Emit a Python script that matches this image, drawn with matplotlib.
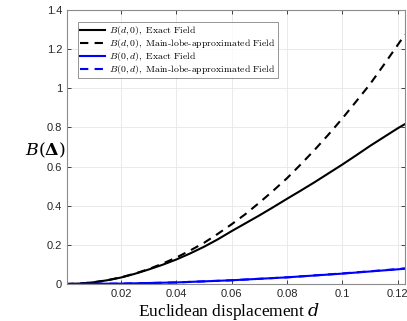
import matplotlib
matplotlib.use("Agg")
import matplotlib.pyplot as plt
from matplotlib.ticker import FixedLocator

plt.rcParams['mathtext.fontset'] = 'cm'

d = [0.0, 0.005, 0.01, 0.015, 0.02, 0.025, 0.03, 0.035, 0.04, 0.045, 0.05, 0.055,
     0.06, 0.065, 0.07, 0.075, 0.08, 0.085, 0.09, 0.095, 0.1, 0.105, 0.11, 0.115,
     0.12, 0.1227]
b_d0_exact = [0.0, 0.002, 0.0085, 0.019, 0.033, 0.052, 0.074, 0.098, 0.125, 0.156,
              0.19, 0.228, 0.27, 0.31, 0.35, 0.392, 0.435, 0.477, 0.52, 0.565,
              0.61, 0.657, 0.705, 0.75, 0.795, 0.817]
b_d0_approx = [0.0, 0.002, 0.0085, 0.019, 0.034, 0.053, 0.076, 0.104, 0.135, 0.171,
               0.21, 0.256, 0.305, 0.357, 0.415, 0.476, 0.54, 0.611, 0.685, 0.763,
               0.845, 0.932, 1.02, 1.119, 1.22, 1.275]
d_blue = [0.0, 0.02, 0.04, 0.06, 0.08, 0.1, 0.12, 0.1227]
b_0d_exact = [0.0, 0.002, 0.008, 0.019, 0.034, 0.053, 0.075, 0.078]
b_0d_approx = [0.0, 0.002, 0.008, 0.019, 0.034, 0.054, 0.076, 0.080]

xticks = [0.02, 0.04, 0.06, 0.08, 0.1, 0.12]
xticklabels = ['0.02', '0.04', '0.06', '0.08', '0.1', '0.12']
yticks = [0, 0.2, 0.4, 0.6, 0.8, 1.0, 1.2, 1.4]
yticklabels = ['0', '0.2', '0.4', '0.6', '0.8', '1', '1.2', '1.4']

fig = plt.figure(figsize=(4.07, 3.21), dpi=100)
ax = fig.add_axes([67/407, 37/321, 338/407, 274/321])

ax.plot(d, b_d0_exact, color='black', lw=1.5, label=r'$B(d,0)\mathrm{,\ Exact\ Field}$')
ax.plot(d, b_d0_approx, color='black', lw=1.5, ls=(0, (4, 3)),
        label=r'$B(d,0)\mathrm{,\ Main\text{-}lobe\text{-}approximated\ Field}$')
ax.plot(d_blue, b_0d_exact, color='#0000ff', lw=1.5, label=r'$B(0,d)\mathrm{,\ Exact\ Field}$')
ax.plot(d_blue, b_0d_approx, color='#0000ff', lw=1.5, ls=(0, (4, 3)),
        label=r'$B(0,d)\mathrm{,\ Main\text{-}lobe\text{-}approximated\ Field}$')

ax.set_xlim(0.0005, 0.1227)
ax.set_ylim(0, 1.4)
ax.xaxis.set_major_locator(FixedLocator(xticks))
ax.set_xticklabels(xticklabels)
ax.yaxis.set_major_locator(FixedLocator(yticks))
ax.set_yticklabels(yticklabels)
ax.tick_params(direction='in', length=3, width=0.6, colors='#262626', labelsize=8,
               top=True, right=True)
for lbl in ax.get_xticklabels() + ax.get_yticklabels():
    lbl.set_family('Liberation Sans')
ax.grid(True, color='#e6e6e6', lw=0.6)
ax.set_axisbelow(True)
for sp in ax.spines.values():
    sp.set_color('#8c8c8c')
    sp.set_linewidth(0.8)

fig.text(229/407, 1 - 316/321, r'Euclidean displacement $d$', fontsize=12.5,
         family='Liberation Serif', ha='center', va='baseline',
         math_fontfamily='dejavuserif')
fig.text(45/407, 1 - 150/321, r'$B(\mathbf{\Delta})$', fontsize=12.5, ha='center', va='center',
         math_fontfamily='dejavuserif')

leg = ax.legend(loc='upper left', bbox_to_anchor=(0.033, 0.955), fontsize=7,
                frameon=True, fancybox=False, edgecolor='#666666', handlelength=2.6,
                borderpad=0.2, labelspacing=0.0, handletextpad=0.4, borderaxespad=0)
leg.get_frame().set_linewidth(0.6)

fig.savefig('out.png', dpi=100)
